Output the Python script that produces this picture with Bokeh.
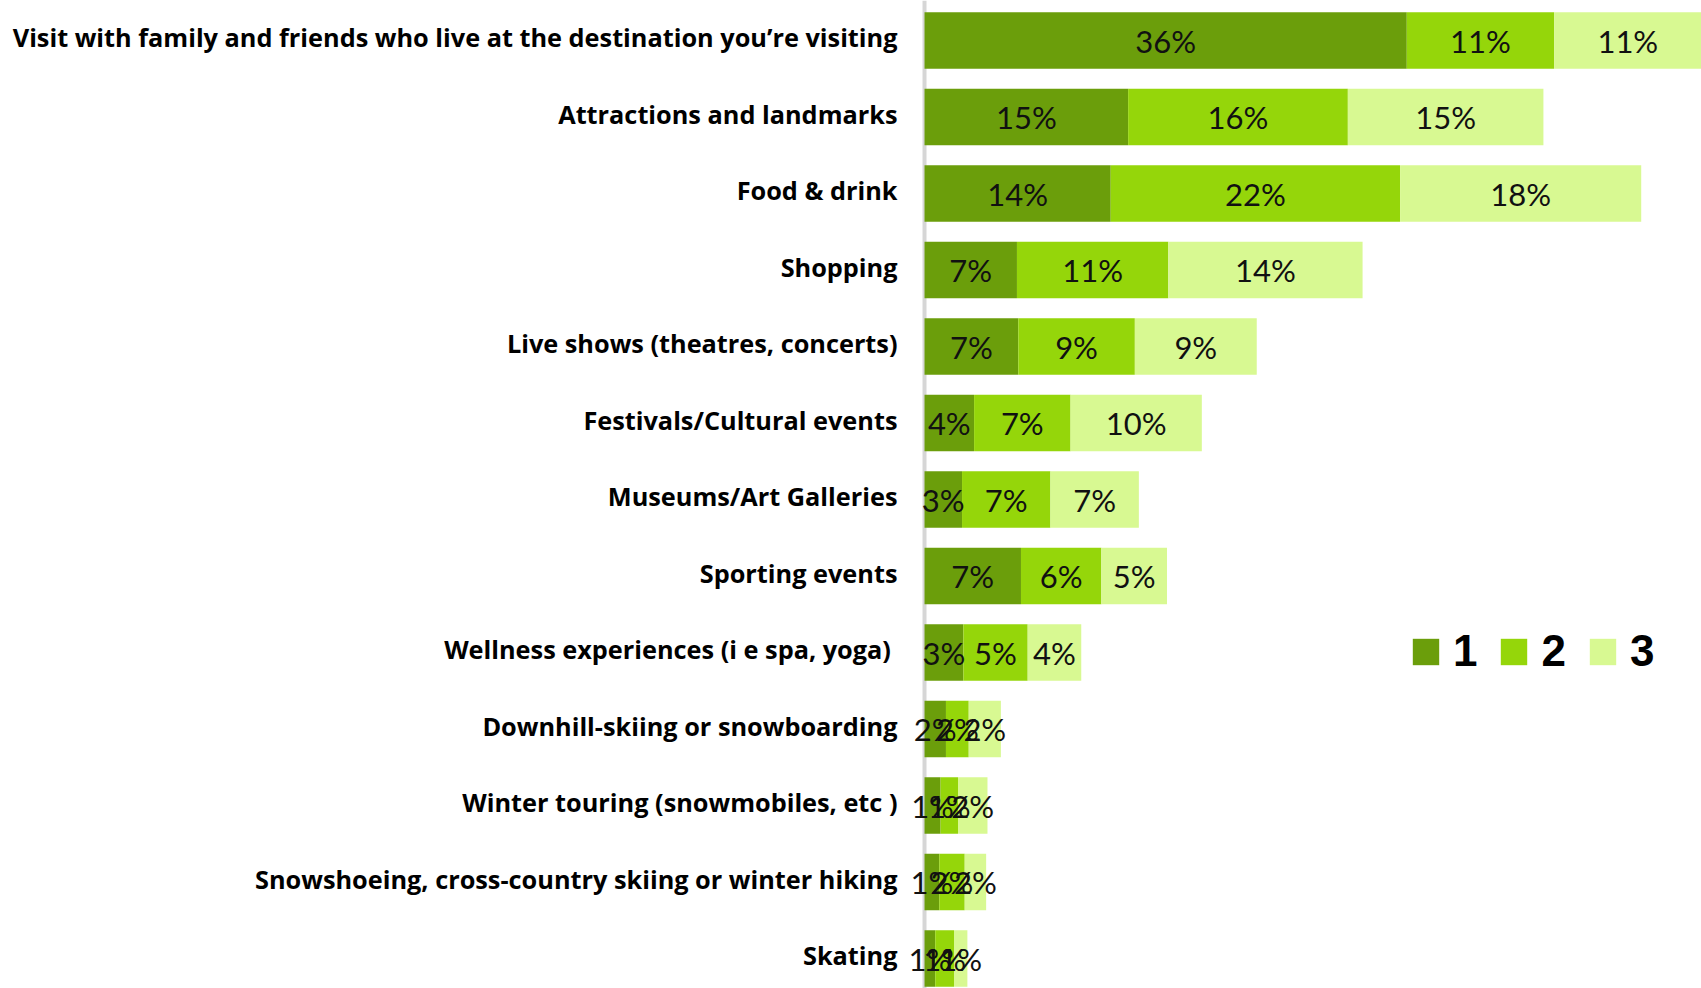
import numpy as np
from bokeh.plotting import figure
from bokeh.models import (ColumnDataSource, Range1d, FixedTicker, LabelSet, Span,
                          CustomJSTickFormatter)
from bokeh.embed import file_html
from bokeh.resources import INLINE
from bokeh.core.properties import value

categories = [
    "Visit with family and friends who live at the destination you\u2019re visiting",
    "Attractions and landmarks",
    "Food & drink",
    "Shopping",
    "Live shows (theatres, concerts)",
    "Festivals/Cultural events",
    "Museums/Art Galleries",
    "Sporting events",
    "Wellness experiences (i e  spa, yoga)",
    "Downhill-skiing or snowboarding",
    "Winter touring (snowmobiles, etc )",
    "Snowshoeing, cross-country skiing or winter hiking",
    "Skating",
]
rank1 = [36.0, 15.2, 13.9, 6.9, 7.0, 3.7, 2.8, 7.2, 2.9, 1.6, 1.2, 1.1, 0.8]
rank2 = [11.0, 16.4, 21.6, 11.3, 8.7, 7.2, 6.6, 6.0, 4.8, 1.7, 1.3, 1.9, 1.4]
rank3 = [11.0, 14.6, 18.0, 14.5, 9.1, 9.8, 6.6, 4.9, 4.0, 2.4, 2.2, 1.6, 1.0]
series_names = ["1", "2", "3"]
colors = ["#6B9E0B", "#95D60A", "#D8F992"]

n = len(categories)
ypos = list(range(n))
src = ColumnDataSource(dict(y=ypos, r1=rank1, r2=rank2, r3=rank3))

p = figure(width=1701, height=988, output_backend="svg", toolbar_location=None,
           x_range=Range1d(-1.42, 58.0), y_range=Range1d(12.392, -0.523),
           min_border_left=905, min_border_right=0, min_border_top=0, min_border_bottom=0)

# value axis line at zero
p.add_layout(Span(location=0, dimension="height", line_color="#d6d6d6",
                  line_width=4, level="underlay"))

p.hbar_stack(["r1", "r2", "r3"], y="y", height=0.737, color=colors, source=src,
             legend_label=series_names, line_width=0)

# labels centred in each segment
vals = np.array([rank1, rank2, rank3])
cum = np.cumsum(vals, axis=0)
starts = cum - vals
for k in range(3):
    centers = (starts[k] + cum[k]) / 2
    lsrc = ColumnDataSource(dict(x=centers, y=ypos,
                                 t=["%d%%" % int(round(v)) for v in vals[k]]))
    p.add_layout(LabelSet(x="x", y="y", text="t", source=lsrc, text_align="center",
                          text_baseline="middle", text_font=value("Lato"),
                          text_font_size=value("31px"), text_color="#111111"))

p.xaxis.visible = False
p.xgrid.grid_line_color = None
p.ygrid.grid_line_color = None
p.outline_line_color = None

ya = p.yaxis[0]
ya.ticker = FixedTicker(ticks=[i - 0.04 for i in ypos])
ya.formatter = CustomJSTickFormatter(args=dict(cats=categories),
                                     code="return cats[Math.round(tick)];")
ya.major_label_text_font = "Open Sans"
ya.major_label_text_font_style = "bold"
ya.major_label_text_font_size = "25.3px"
ya.major_label_text_color = "#000000"
ya.major_label_standoff = 8
ya.major_tick_line_color = None
ya.minor_tick_line_color = None
ya.major_tick_out = 0
ya.major_tick_in = 0
ya.axis_line_color = None

lg = p.legend[0]
lg.orientation = "horizontal"
lg.location = (504, 312)
lg.glyph_width = 33
lg.glyph_height = 33
lg.label_text_font = "Liberation Sans"
lg.label_text_font_style = "bold"
lg.label_text_font_size = "44px"
lg.label_text_color = "#000000"
lg.label_standoff = 11
lg.spacing = 20
lg.padding = 0
lg.margin = 0
lg.border_line_color = None
lg.background_fill_alpha = 0

open("out.html", "w").write(file_html(p, INLINE))
